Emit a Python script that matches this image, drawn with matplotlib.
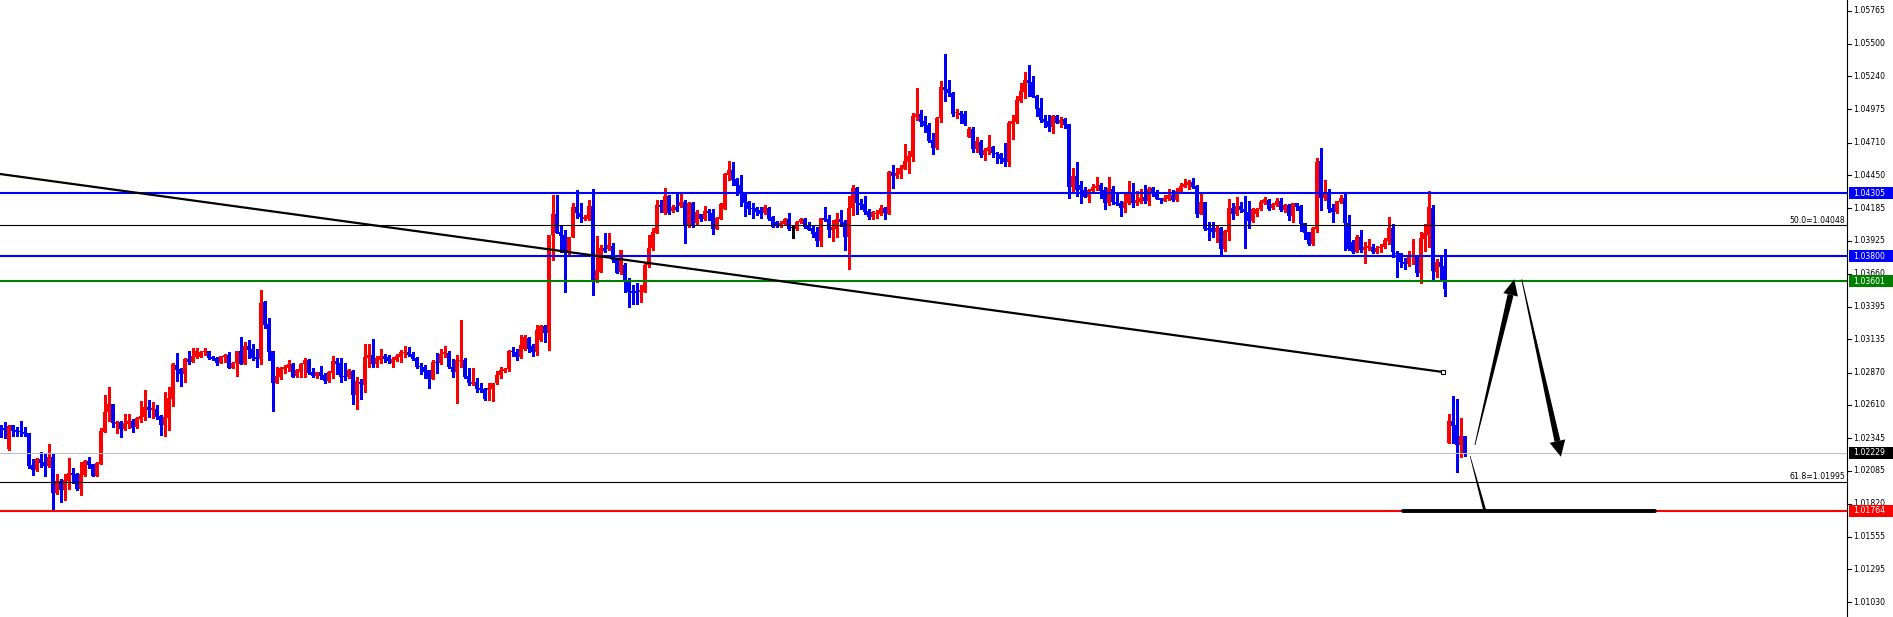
import numpy as np
import matplotlib
matplotlib.use("Agg")
import matplotlib.pyplot as plt
from matplotlib.patches import Polygon, Rectangle

UP = "#FF0000"
DOWN = "#0000FF"
GREEN = "#008000"

# hourly candles (price)
opens = [
    1.02438, 1.02422, 1.02254, 1.02450, 1.02410, 1.02402, 1.02398, 1.02386, 1.02126, 1.02090,
    1.02178, 1.02150, 1.02122, 1.02194, 1.01906, 1.02002, 1.01930, 1.02002, 1.02066, 1.02058,
    1.01938, 1.02050, 1.02162, 1.02138, 1.02042, 1.02138, 1.02394, 1.02554, 1.02618, 1.02458,
    1.02474, 1.02418, 1.02458, 1.02482, 1.02430, 1.02498, 1.02514, 1.02594, 1.02570, 1.02578,
    1.02522, 1.02450, 1.02506, 1.02658, 1.02930, 1.02898, 1.02858, 1.02978, 1.02954, 1.02994,
    1.02994, 1.03034, 1.03042, 1.02994, 1.02986, 1.02946, 1.02994, 1.03010, 1.02906, 1.02946,
    1.03042, 1.02938, 1.03082, 1.03058, 1.02994, 1.02978, 1.03434, 1.03258, 1.03042, 1.02786,
    1.02834, 1.02898, 1.02906, 1.02938, 1.02842, 1.02874, 1.02938, 1.02970, 1.02874, 1.02842,
    1.02874, 1.02850, 1.02802, 1.02866, 1.02962, 1.02946, 1.02842, 1.02834, 1.02882, 1.02690,
    1.02794, 1.02770, 1.02986, 1.03010, 1.02938, 1.02970, 1.03002, 1.02994, 1.02946, 1.02970,
    1.02994, 1.03026, 1.03034, 1.03018, 1.02986, 1.02922, 1.02914, 1.02890, 1.02818, 1.02954,
    1.02946, 1.03018, 1.03026, 1.02914, 1.02874, 1.02962, 1.02970, 1.02842, 1.02778, 1.02794,
    1.02746, 1.02738, 1.02730, 1.02738, 1.02786, 1.02850, 1.02882, 1.02898, 1.03042, 1.03034,
    1.02994, 1.03058, 1.03146, 1.03082, 1.03034, 1.03130, 1.03242, 1.03186, 1.03970, 1.04138,
    1.03994, 1.03970, 1.03826, 1.03954, 1.04194, 1.04146, 1.04098, 1.04098, 1.04202, 1.03594,
    1.03674, 1.03866, 1.03858, 1.03882, 1.03778, 1.03674, 1.03730, 1.03594, 1.03522, 1.03522,
    1.03514, 1.03514, 1.03730, 1.03866, 1.03986, 1.04210, 1.04146, 1.04282, 1.04162, 1.04194,
    1.04202, 1.04234, 1.04042, 1.04226, 1.04066, 1.04138, 1.04098, 1.04162, 1.04146, 1.04018,
    1.04098, 1.04178, 1.04450, 1.04490, 1.04418, 1.04370, 1.04306, 1.04234, 1.04186, 1.04186,
    1.04170, 1.04146, 1.04186, 1.04114, 1.04074, 1.04042, 1.04058, 1.04098, 1.04026, 1.04018,
    1.04074, 1.04098, 1.04042, 1.04026, 1.03994, 1.03922, 1.04106, 1.04098, 1.04010, 1.04018,
    1.04098, 1.04074, 1.03954, 1.04186, 1.04346, 1.04226, 1.04218, 1.04162, 1.04114, 1.04138,
    1.04138, 1.04186, 1.04138, 1.04474, 1.04442, 1.04458, 1.04498, 1.04554, 1.04594, 1.04914,
    1.04938, 1.04882, 1.04850, 1.04730, 1.04666, 1.04906, 1.05154, 1.05138, 1.05106, 1.04944,
    1.04946, 1.04938, 1.04754, 1.04818, 1.04658, 1.04714, 1.04610, 1.04642, 1.04674, 1.04626,
    1.04618, 1.04586, 1.04554, 1.04858, 1.04874, 1.05042, 1.05114, 1.05210, 1.05194, 1.05082,
    1.04986, 1.04898, 1.04882, 1.04834, 1.04922, 1.04866, 1.04898, 1.04858, 1.04354, 1.04442,
    1.04370, 1.04330, 1.04274, 1.04322, 1.04346, 1.04370, 1.04330, 1.04226, 1.04338, 1.04234,
    1.04226, 1.04186, 1.04226, 1.04306, 1.04226, 1.04234, 1.04274, 1.04242, 1.04346, 1.04306,
    1.04266, 1.04242, 1.04258, 1.04290, 1.04250, 1.04314, 1.04354, 1.04370, 1.04394, 1.04362,
    1.04138, 1.04234, 1.04026, 1.04026, 1.03994, 1.04026, 1.03858, 1.03994, 1.04186, 1.04138,
    1.04202, 1.04178, 1.04154, 1.04082, 1.04138, 1.04178, 1.04226, 1.04250, 1.04186, 1.04210,
    1.04242, 1.04170, 1.04210, 1.04122, 1.04226, 1.04202, 1.04066, 1.03994, 1.03898, 1.04018,
    1.04562, 1.04266, 1.04306, 1.04186, 1.04154, 1.04234, 1.04266, 1.04066, 1.03914, 1.03834,
    1.03954, 1.03850, 1.03866, 1.03874, 1.03834, 1.03866, 1.03874, 1.03922, 1.04026, 1.03826,
    1.03826, 1.03754, 1.03738, 1.03794, 1.03802, 1.03666, 1.03938, 1.03970, 1.04186, 1.03674,
    1.03754, 1.03722, 1.02306, 1.02482, 1.02450, 1.02290, 1.02362,
]
highs = [
    1.02450, 1.02474, 1.02450, 1.02450, 1.02434, 1.02482, 1.02434, 1.02386, 1.02178, 1.02186,
    1.02234, 1.02226, 1.02298, 1.02218, 1.02058, 1.02018, 1.02058, 1.02186, 1.02106, 1.02066,
    1.02154, 1.02170, 1.02194, 1.02138, 1.02154, 1.02426, 1.02690, 1.02754, 1.02618, 1.02482,
    1.02482, 1.02538, 1.02538, 1.02498, 1.02514, 1.02642, 1.02730, 1.02650, 1.02634, 1.02610,
    1.02530, 1.02714, 1.02754, 1.02946, 1.03026, 1.02906, 1.02986, 1.03042, 1.03066, 1.03066,
    1.03042, 1.03066, 1.03042, 1.03002, 1.02994, 1.03002, 1.03018, 1.03034, 1.02954, 1.03042,
    1.03154, 1.03114, 1.03130, 1.03098, 1.03058, 1.03530, 1.03442, 1.03306, 1.03042, 1.02914,
    1.02914, 1.02930, 1.02970, 1.02946, 1.02898, 1.02946, 1.02986, 1.02978, 1.02906, 1.02874,
    1.02922, 1.02866, 1.02882, 1.03002, 1.02986, 1.02986, 1.02946, 1.02898, 1.02890, 1.02834,
    1.02818, 1.03098, 1.03098, 1.03138, 1.03002, 1.03058, 1.03018, 1.03010, 1.02994, 1.03018,
    1.03050, 1.03082, 1.03074, 1.03034, 1.02994, 1.02946, 1.02930, 1.02890, 1.02970, 1.03026,
    1.03058, 1.03082, 1.03042, 1.02978, 1.03010, 1.03290, 1.02986, 1.02906, 1.02906, 1.02826,
    1.02786, 1.02746, 1.02786, 1.02786, 1.02882, 1.02914, 1.02906, 1.03050, 1.03074, 1.03058,
    1.03170, 1.03170, 1.03154, 1.03098, 1.03250, 1.03250, 1.03250, 1.03970, 1.04290, 1.04290,
    1.04042, 1.04010, 1.03954, 1.04226, 1.04330, 1.04226, 1.04130, 1.04250, 1.04338, 1.03962,
    1.03890, 1.03986, 1.03986, 1.03906, 1.03786, 1.03850, 1.03746, 1.03626, 1.03570, 1.03586,
    1.03570, 1.03746, 1.03970, 1.04026, 1.04250, 1.04250, 1.04346, 1.04290, 1.04210, 1.04306,
    1.04306, 1.04250, 1.04234, 1.04234, 1.04170, 1.04138, 1.04202, 1.04178, 1.04178, 1.04114,
    1.04226, 1.04466, 1.04562, 1.04554, 1.04426, 1.04450, 1.04306, 1.04242, 1.04226, 1.04194,
    1.04194, 1.04210, 1.04194, 1.04122, 1.04082, 1.04082, 1.04106, 1.04146, 1.04050, 1.04082,
    1.04106, 1.04106, 1.04074, 1.04042, 1.04034, 1.04106, 1.04194, 1.04130, 1.04090, 1.04146,
    1.04170, 1.04090, 1.04282, 1.04370, 1.04354, 1.04258, 1.04282, 1.04178, 1.04162, 1.04170,
    1.04210, 1.04194, 1.04482, 1.04530, 1.04506, 1.04530, 1.04698, 1.04642, 1.04946, 1.05146,
    1.04970, 1.04922, 1.04866, 1.04786, 1.04914, 1.05202, 1.05418, 1.05210, 1.05114, 1.04978,
    1.04962, 1.04962, 1.04834, 1.04834, 1.04754, 1.04730, 1.04666, 1.04770, 1.04682, 1.04634,
    1.04626, 1.04706, 1.04882, 1.04930, 1.05082, 1.05186, 1.05274, 1.05330, 1.05242, 1.05090,
    1.05066, 1.04930, 1.04930, 1.04930, 1.04930, 1.04914, 1.04906, 1.04858, 1.04506, 1.04554,
    1.04402, 1.04354, 1.04338, 1.04378, 1.04434, 1.04386, 1.04354, 1.04434, 1.04362, 1.04314,
    1.04242, 1.04314, 1.04402, 1.04386, 1.04322, 1.04338, 1.04370, 1.04354, 1.04354, 1.04330,
    1.04266, 1.04290, 1.04338, 1.04330, 1.04346, 1.04386, 1.04418, 1.04410, 1.04426, 1.04370,
    1.04306, 1.04234, 1.04074, 1.04074, 1.04042, 1.04034, 1.04010, 1.04258, 1.04226, 1.04274,
    1.04234, 1.04282, 1.04242, 1.04186, 1.04186, 1.04250, 1.04274, 1.04258, 1.04226, 1.04266,
    1.04266, 1.04218, 1.04218, 1.04226, 1.04226, 1.04210, 1.04066, 1.03994, 1.04034, 1.04586,
    1.04666, 1.04410, 1.04338, 1.04218, 1.04242, 1.04290, 1.04306, 1.04130, 1.03930, 1.03970,
    1.04010, 1.03914, 1.03938, 1.03898, 1.03882, 1.03898, 1.03946, 1.04114, 1.04058, 1.03842,
    1.03826, 1.03786, 1.03842, 1.03938, 1.03810, 1.03994, 1.04058, 1.04322, 1.04210, 1.03778,
    1.03794, 1.03858, 1.02538, 1.02682, 1.02658, 1.02506, 1.02362,
]
lows = [
    1.02354, 1.02346, 1.02250, 1.02362, 1.02362, 1.02362, 1.02362, 1.02106, 1.02050, 1.02082,
    1.02114, 1.02042, 1.02114, 1.01762, 1.01898, 1.01834, 1.01850, 1.01938, 1.01986, 1.01930,
    1.01890, 1.02042, 1.02106, 1.02042, 1.02042, 1.02138, 1.02394, 1.02482, 1.02434, 1.02386,
    1.02354, 1.02410, 1.02426, 1.02394, 1.02426, 1.02474, 1.02490, 1.02514, 1.02506, 1.02498,
    1.02370, 1.02362, 1.02410, 1.02602, 1.02802, 1.02762, 1.02794, 1.02938, 1.02954, 1.02986,
    1.02994, 1.03010, 1.02978, 1.02970, 1.02930, 1.02946, 1.02954, 1.02906, 1.02906, 1.02842,
    1.02938, 1.02938, 1.02986, 1.02970, 1.02914, 1.02938, 1.03226, 1.02970, 1.02562, 1.02786,
    1.02818, 1.02866, 1.02882, 1.02834, 1.02834, 1.02834, 1.02834, 1.02858, 1.02834, 1.02826,
    1.02818, 1.02786, 1.02794, 1.02826, 1.02858, 1.02794, 1.02810, 1.02826, 1.02618, 1.02578,
    1.02658, 1.02714, 1.02914, 1.02914, 1.02914, 1.02946, 1.02954, 1.02946, 1.02914, 1.02962,
    1.02954, 1.02994, 1.03002, 1.02970, 1.02906, 1.02858, 1.02826, 1.02746, 1.02818, 1.02866,
    1.02938, 1.02994, 1.02906, 1.02834, 1.02626, 1.02914, 1.02826, 1.02770, 1.02770, 1.02714,
    1.02714, 1.02650, 1.02650, 1.02642, 1.02778, 1.02826, 1.02874, 1.02882, 1.03002, 1.02970,
    1.02986, 1.03050, 1.03034, 1.03002, 1.03010, 1.03122, 1.03114, 1.03050, 1.03770, 1.03986,
    1.03834, 1.03514, 1.03818, 1.03954, 1.04106, 1.04074, 1.04090, 1.04090, 1.03490, 1.03594,
    1.03674, 1.03834, 1.03850, 1.03754, 1.03666, 1.03658, 1.03514, 1.03394, 1.03418, 1.03418,
    1.03434, 1.03514, 1.03714, 1.03850, 1.03986, 1.04154, 1.04138, 1.04138, 1.04154, 1.04162,
    1.04194, 1.03906, 1.04034, 1.04034, 1.04058, 1.04082, 1.04090, 1.04090, 1.03978, 1.04018,
    1.04098, 1.04178, 1.04410, 1.04370, 1.04290, 1.04202, 1.04122, 1.04138, 1.04106, 1.04130,
    1.04106, 1.04138, 1.04090, 1.04034, 1.04034, 1.04034, 1.04050, 1.04010, 1.03946, 1.04010,
    1.04066, 1.04026, 1.04010, 1.03954, 1.03882, 1.03882, 1.04082, 1.03954, 1.03922, 1.03954,
    1.04042, 1.03850, 1.03698, 1.04130, 1.04138, 1.04178, 1.04138, 1.04098, 1.04098, 1.04106,
    1.04130, 1.04098, 1.04138, 1.04346, 1.04426, 1.04426, 1.04498, 1.04466, 1.04562, 1.04890,
    1.04842, 1.04794, 1.04714, 1.04618, 1.04658, 1.04874, 1.05042, 1.05082, 1.04922, 1.04906,
    1.04866, 1.04850, 1.04754, 1.04634, 1.04634, 1.04594, 1.04570, 1.04618, 1.04594, 1.04546,
    1.04546, 1.04522, 1.04522, 1.04738, 1.04866, 1.05034, 1.05066, 1.05082, 1.05074, 1.04922,
    1.04874, 1.04834, 1.04802, 1.04786, 1.04866, 1.04834, 1.04826, 1.04266, 1.04314, 1.04282,
    1.04226, 1.04274, 1.04234, 1.04314, 1.04330, 1.04266, 1.04178, 1.04210, 1.04218, 1.04210,
    1.04122, 1.04154, 1.04218, 1.04194, 1.04210, 1.04226, 1.04226, 1.04210, 1.04282, 1.04258,
    1.04226, 1.04242, 1.04250, 1.04242, 1.04242, 1.04306, 1.04354, 1.04338, 1.04346, 1.04114,
    1.04138, 1.04010, 1.03930, 1.03954, 1.03914, 1.03802, 1.03842, 1.03930, 1.04098, 1.04130,
    1.04154, 1.03866, 1.04026, 1.04074, 1.04122, 1.04170, 1.04218, 1.04170, 1.04178, 1.04202,
    1.04162, 1.04154, 1.04090, 1.04074, 1.04170, 1.04002, 1.03938, 1.03890, 1.03890, 1.03994,
    1.04170, 1.04250, 1.04154, 1.04074, 1.04146, 1.04226, 1.03850, 1.03850, 1.03826, 1.03834,
    1.03834, 1.03746, 1.03850, 1.03826, 1.03826, 1.03834, 1.03866, 1.03898, 1.03794, 1.03634,
    1.03714, 1.03698, 1.03722, 1.03738, 1.03642, 1.03586, 1.03842, 1.03874, 1.03602, 1.03634,
    1.03618, 1.03482, 1.02306, 1.02306, 1.02074, 1.02194, 1.02202,
]
closes = [
    1.02422, 1.02406, 1.02442, 1.02402, 1.02394, 1.02394, 1.02382, 1.02122, 1.02090, 1.02178,
    1.02146, 1.02122, 1.02194, 1.01906, 1.02002, 1.01930, 1.02010, 1.02066, 1.02050, 1.01938,
    1.02058, 1.02162, 1.02130, 1.02042, 1.02146, 1.02402, 1.02554, 1.02618, 1.02466, 1.02474,
    1.02418, 1.02466, 1.02482, 1.02426, 1.02506, 1.02522, 1.02594, 1.02570, 1.02586, 1.02514,
    1.02450, 1.02514, 1.02666, 1.02938, 1.02890, 1.02858, 1.02978, 1.02954, 1.03002, 1.03042,
    1.03034, 1.03042, 1.02986, 1.02978, 1.02946, 1.03002, 1.03010, 1.02906, 1.02946, 1.03042,
    1.02938, 1.03082, 1.03050, 1.02986, 1.02978, 1.03426, 1.03250, 1.03034, 1.02786, 1.02842,
    1.02906, 1.02914, 1.02938, 1.02834, 1.02890, 1.02938, 1.02970, 1.02866, 1.02842, 1.02874,
    1.02842, 1.02802, 1.02874, 1.02962, 1.02938, 1.02834, 1.02834, 1.02890, 1.02690, 1.02802,
    1.02778, 1.02994, 1.03010, 1.02938, 1.02986, 1.03002, 1.02978, 1.02962, 1.02978, 1.03002,
    1.03034, 1.03034, 1.03010, 1.02978, 1.02914, 1.02914, 1.02874, 1.02818, 1.02954, 1.02946,
    1.03018, 1.03034, 1.02914, 1.02874, 1.02970, 1.02970, 1.02834, 1.02786, 1.02794, 1.02738,
    1.02730, 1.02658, 1.02746, 1.02786, 1.02850, 1.02890, 1.02898, 1.03042, 1.03034, 1.02994,
    1.03090, 1.03154, 1.03058, 1.03034, 1.03210, 1.03242, 1.03186, 1.03970, 1.04138, 1.03986,
    1.03962, 1.03826, 1.03954, 1.04194, 1.04146, 1.04114, 1.04114, 1.04202, 1.03594, 1.03690,
    1.03866, 1.03842, 1.03890, 1.03770, 1.03666, 1.03850, 1.03602, 1.03514, 1.03506, 1.03506,
    1.03530, 1.03730, 1.03866, 1.03994, 1.04210, 1.04194, 1.04282, 1.04146, 1.04194, 1.04170,
    1.04234, 1.04042, 1.04226, 1.04042, 1.04154, 1.04098, 1.04162, 1.04146, 1.04018, 1.04106,
    1.04218, 1.04458, 1.04490, 1.04410, 1.04362, 1.04306, 1.04226, 1.04178, 1.04178, 1.04154,
    1.04138, 1.04194, 1.04098, 1.04034, 1.04042, 1.04066, 1.04098, 1.04018, 1.04026, 1.04074,
    1.04098, 1.04034, 1.04010, 1.03978, 1.03922, 1.04106, 1.04090, 1.04010, 1.04034, 1.04098,
    1.04074, 1.03954, 1.04186, 1.04346, 1.04226, 1.04210, 1.04154, 1.04114, 1.04154, 1.04146,
    1.04186, 1.04146, 1.04474, 1.04442, 1.04466, 1.04506, 1.04562, 1.04602, 1.04922, 1.04938,
    1.04874, 1.04842, 1.04722, 1.04666, 1.04906, 1.05154, 1.05130, 1.05106, 1.04938, 1.04950,
    1.04930, 1.04858, 1.04818, 1.04658, 1.04722, 1.04610, 1.04650, 1.04674, 1.04626, 1.04618,
    1.04578, 1.04554, 1.04866, 1.04882, 1.05050, 1.05122, 1.05210, 1.05186, 1.05074, 1.04978,
    1.04890, 1.04874, 1.04834, 1.04922, 1.04866, 1.04890, 1.04850, 1.04354, 1.04442, 1.04330,
    1.04330, 1.04274, 1.04330, 1.04354, 1.04362, 1.04322, 1.04226, 1.04346, 1.04234, 1.04218,
    1.04186, 1.04234, 1.04306, 1.04226, 1.04250, 1.04266, 1.04242, 1.04338, 1.04306, 1.04258,
    1.04250, 1.04266, 1.04290, 1.04250, 1.04322, 1.04362, 1.04378, 1.04394, 1.04354, 1.04138,
    1.04234, 1.04018, 1.04010, 1.03994, 1.04026, 1.03858, 1.04002, 1.04186, 1.04138, 1.04202,
    1.04170, 1.04154, 1.04082, 1.04178, 1.04178, 1.04234, 1.04258, 1.04178, 1.04218, 1.04242,
    1.04170, 1.04210, 1.04122, 1.04226, 1.04194, 1.04058, 1.03986, 1.03898, 1.04026, 1.04554,
    1.04266, 1.04306, 1.04178, 1.04154, 1.04242, 1.04266, 1.04066, 1.03858, 1.03834, 1.03954,
    1.03850, 1.03874, 1.03882, 1.03834, 1.03866, 1.03874, 1.03930, 1.04026, 1.03834, 1.03818,
    1.03754, 1.03738, 1.03802, 1.03802, 1.03666, 1.03946, 1.03986, 1.04194, 1.03682, 1.03754,
    1.03714, 1.03538, 1.02482, 1.02442, 1.02290, 1.02362, 1.02229,
]

# right price scale
tick_prices = [1.05765, 1.05500, 1.05240, 1.04975, 1.04710, 1.04450, 1.04185, 1.03925,
               1.03660, 1.03395, 1.03135, 1.02870, 1.02610, 1.02345, 1.02085, 1.01820,
               1.01555, 1.01295, 1.01030]

# horizontal levels
resist_hi = 1.04305
resist_lo = 1.03800
support = 1.03601
bid = 1.02229
target = 1.01764
fib_50 = 1.04048
fib_618 = 1.01995

# trend line anchors (bar index, price)
trend_x = [-0.125, 360.6]
trend_y = [1.04458, 1.02874]

# projected path (bar index, price)
leg_down_x = [367.4, 371.1]
leg_down_y = [1.02202, 1.01762]
leg_up_x = [368.6, 378.45]
leg_up_y = [1.02290, 1.03616]
leg_back_x = [380.3, 390.1]
leg_back_y = [1.03616, 1.02196]
floor_x = [350.6, 413.6]

W, H = 1893, 617
PLOT_W = 1847

fig = plt.figure(figsize=(W / 100, H / 100), dpi=100)
fig.patch.set_facecolor("white")
ax = fig.add_axes([0, 0, PLOT_W / W, 1])
ax.set_xlim(-0.125, PLOT_W / 4 - 0.125)
ax.set_ylim(1.00914, 1.05850)
ax.set_xticks([])
ax.set_yticks([])
for side in ["top", "bottom", "left"]:
    ax.spines[side].set_visible(False)
ax.spines["right"].set_linewidth(0.8)
ax.spines["right"].set_color("black")

o = np.array(opens)
h = np.array(highs)
l = np.array(lows)
c = np.array(closes)
x = np.arange(len(o))
colors = np.where(c > o, UP, np.where(c < o, DOWN, "black"))

# candles
ax.vlines(x, l, h, colors=colors, lw=0.75, antialiased=False, zorder=2)
body_lo = np.minimum(o, c)
body_h = np.maximum(np.abs(c - o), 0.00008)
ax.bar(x, body_h, bottom=body_lo, width=0.76, color=colors, linewidth=0,
       antialiased=False, zorder=2)

# levels
ax.axhline(fib_50, color="black", lw=0.8, zorder=3)
ax.axhline(fib_618, color="black", lw=0.8, zorder=3)
ax.axhline(bid, color="#C0C0C0", lw=0.8, zorder=3)
ax.axhline(resist_hi, color=DOWN, lw=1.5, zorder=3)
ax.axhline(resist_lo, color=DOWN, lw=1.5, zorder=3)
ax.axhline(support, color=GREEN, lw=1.5, zorder=3)
ax.axhline(target, color=UP, lw=1.5, zorder=3)

ytr = ax.get_yaxis_transform()
FONT = dict(family="DejaVu Sans", fontsize=5.6)
ax.text(1845 / PLOT_W, fib_50 + 0.00004, "50.0=%.5f" % fib_50, transform=ytr,
        ha="right", va="bottom", zorder=6, **FONT)
ax.text(1845 / PLOT_W, fib_618 + 0.00004, "61.8=%.5f" % fib_618, transform=ytr,
        ha="right", va="bottom", zorder=6, **FONT)

# trend line
ax.plot(trend_x, trend_y, color="black", lw=1.6, zorder=4)
ax.plot(trend_x[1], trend_y[1], "s", ms=3.4, mfc="white", mec="black", mew=0.8, zorder=5)


# drawn path: tapered strokes with arrow heads, built in pixel space
def to_px(pts):
    return ax.transData.transform(np.asarray(pts, dtype=float))


def to_data(pts):
    return ax.transData.inverted().transform(np.asarray(pts, dtype=float))


def stroke(p0, p1, w0, w1, head=None):
    a, b = to_px([p0, p1])
    d = (b - a) / np.hypot(*(b - a))
    n = np.array([-d[1], d[0]])
    end = b
    if head is not None:
        hl, hw = head
        end = b - d * hl
        tri = [b, end + n * hw / 2, end - n * hw / 2]
        ax.add_patch(Polygon(to_data(tri), closed=True, fc="black", ec="none", zorder=5))
    quad = [a + n * w0 / 2, end + n * w1 / 2, end - n * w1 / 2, a - n * w0 / 2]
    ax.add_patch(Polygon(to_data(quad), closed=True, fc="black", ec="none", zorder=5))


fig.canvas.draw()
stroke((leg_down_x[0], leg_down_y[0]), (leg_down_x[1], leg_down_y[1]), 0.6, 3.0)
stroke((leg_up_x[0], leg_up_y[0]), (leg_up_x[1], leg_up_y[1]), 0.8, 6.0, head=(16, 15))
stroke((leg_back_x[0], leg_back_y[0]), (leg_back_x[1], leg_back_y[1]), 0.8, 6.0, head=(16, 16))
ax.plot(floor_x, [target, target], color="black", lw=2.8, solid_capstyle="round", zorder=5)

# price scale on the right
for p in tick_prices:
    ax.plot([1.0, 1851 / PLOT_W], [p, p], color="black", lw=0.8, transform=ytr,
            clip_on=False, zorder=3)
    ax.text(1853 / PLOT_W, p, "%.5f" % p, transform=ytr, ha="left", va="center",
            clip_on=False, zorder=3, **FONT)

box_h = 12 * 0.00008
for p, col in [(resist_hi, DOWN), (resist_lo, DOWN), (support, GREEN),
               (bid, "black"), (target, UP)]:
    ax.add_patch(Rectangle((1849 / PLOT_W, p - box_h / 2), (W - 1849) / PLOT_W, box_h,
                           transform=ytr, fc=col, ec="none", clip_on=False, zorder=7))
    ax.text(1853 / PLOT_W, p, "%.5f" % p, transform=ytr, ha="left", va="center",
            color="white", clip_on=False, zorder=8, **FONT)

fig.savefig("out.png", dpi=100, facecolor="white")
